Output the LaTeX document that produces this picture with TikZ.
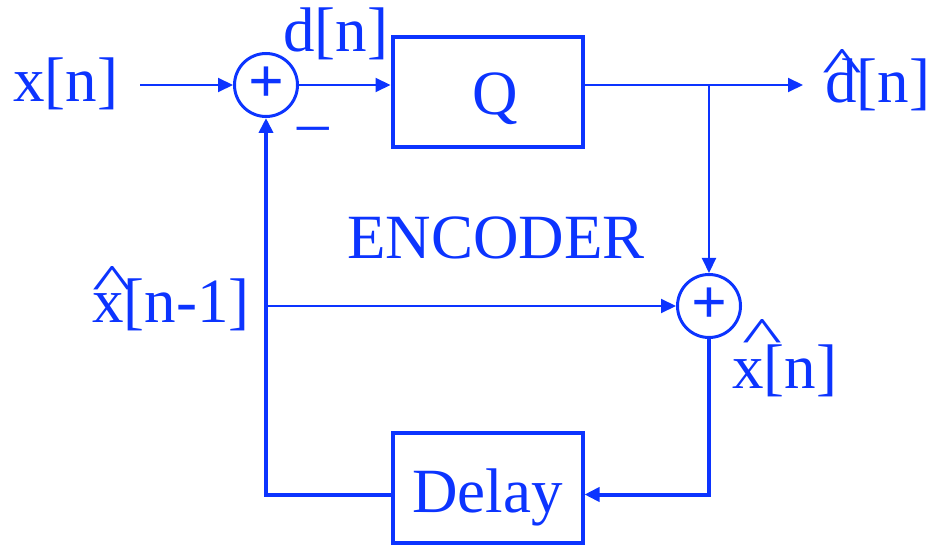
\documentclass[tikz,border=0pt]{standalone}
\usepackage{fontspec}
\setmainfont{Liberation Serif}
\usetikzlibrary{arrows.meta, positioning, calc}
\definecolor{dpcmblue}{RGB}{12,52,255}
% caret set above a letter: [shift]{raise}{letter}
\newcommand{\hatover}[3][0pt]{\leavevmode\rlap{\hspace{#1}\raisebox{#2}{\scalebox{1.35}[0.8]{\textasciicircum}}}#3}

\begin{document}
\begin{tikzpicture}[
    x=0.5pt, y=-0.5pt,
    % Defining global styles for our texts
    every node/.style={
        text=dpcmblue,
        font=\fontsize{31.5}{36}\selectfont,
        inner sep=0pt
    },
    % adders and blocks
    sum/.style={
        circle,
        draw=dpcmblue,
        line width=1.5pt,
        minimum size=31.5pt
    },
    block/.style={
        rectangle,
        draw=dpcmblue,
        line width=2pt,
        minimum width=95pt,
        minimum height=55pt
    },
    sig/.style={anchor=base west},
    % Defining style for our edges
    thin edge/.style={draw=dpcmblue, line width=1pt},
    thick edge/.style={draw=dpcmblue, line width=2pt},
    arrowhead/.style={-{Triangle[length=7.5pt,width=7pt]}}
]
    \useasboundingbox (0,0) rectangle (931,545);

    % Adders and blocks
    \node[sum] (sum1) at (266,85) {\textbf{+}};
    \node[sum] (sum2) at (709,306) {\textbf{+}};
    \node[block] (quant) at (487.5,92) {\hspace{8pt}\raisebox{-11.5pt}[0pt][0pt]{Q}};
    \node[block] (delay) at (487.5,487.5) {\raisebox{-12.25pt}[0pt][0pt]{Delay}};

    % Signal names
    \node[sig] (xin) at (13,102) {x[n]};
    \node[sig] (dn) at (283,52) {d[n]};
    \node[sig] (minus) at (297,144) {\textendash};
    \node[sig] (dhat) at (825,103) {\hatover[-0.05em]{0.33em}{d}[n]};
    \node[sig] (xprev) at (92,322) {\hatover{0.35em}{x}[n-1]};
    \node[sig] (xhat) at (732,388) {\hatover[0.16em]{0.57em}{x}[n]};
    \node[sig] (enc) at (347,258) {ENCODER};

    % Free ends and branch points
    \coordinate (in) at (140,85);
    \coordinate (out) at (803,85);
    \coordinate (split) at (sum2 |- sum1);
    \coordinate (tap) at (sum1 |- sum2);

    \begin{scope}[thin edge]
        \draw[arrowhead] (in) -- (sum1.west);
        \draw[arrowhead] (sum1.east) -- (sum1 -| quant.west);
        \draw[arrowhead] (sum1 -| quant.east) -- (out);
        \draw[arrowhead] (split) -- (sum2.north);
        \draw[arrowhead] (tap) -- (sum2.west);
    \end{scope}

    % Feedback through the delay
    \begin{scope}[thick edge]
        \draw[arrowhead] (sum2.south) |- ([yshift=-3.5pt]delay.east);
        \draw[arrowhead] ([yshift=-3.5pt]delay.west) -| (sum1.south);
    \end{scope}

\end{tikzpicture}
\end{document}
